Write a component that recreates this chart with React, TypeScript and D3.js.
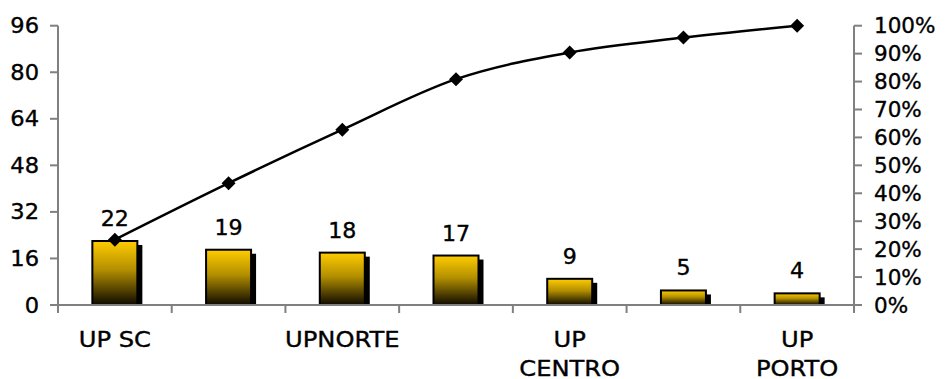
import React from "react";
import * as d3 from "d3";

const categories = ["UP SC", "", "UPNORTE", "", "UP\nCENTRO", "", "UP\nPORTO"];
const showLabel = [true, false, true, false, true, false, true];
const values = [22, 19, 18, 17, 9, 5, 4];
const leftTicks = [0, 16, 32, 48, 64, 80, 96];
const rightTicks = [0, 0.1, 0.2, 0.3, 0.4, 0.5, 0.6, 0.7, 0.8, 0.9, 1.0];

const W = 945, H = 379;
const left = 58, right = 854, top = 25.7, bottom = 305;
const FONT = "'DejaVu Sans', Verdana, sans-serif";
const FS = 20.5;

function T({ x, y, anchor, sx = 1.1, children }: { x: number; y: number; anchor: string; sx?: number; children: any }) {
  return (
    <g transform={`translate(${x},${y}) scale(${sx},1)`}>
      <text x={0} y={0} textAnchor={anchor} fontFamily={FONT} fontSize={FS} fill="#000" stroke="#000" strokeWidth={0.35}>
        {children}
      </text>
    </g>
  );
}

export default function App() {
  const x = d3.scaleBand<number>().domain(d3.range(values.length)).range([left, right]).padding(0);
  const yL = d3.scaleLinear().domain([0, 96]).range([bottom, top]);
  const yR = d3.scaleLinear().domain([0, 1]).range([bottom, top]);
  const total = d3.sum(values);
  const cum: number[] = Array.from(d3.cumsum(values), (v) => v / total);
  const cx = (i: number) => (x(i) as number) + x.bandwidth() / 2;
  const barW = 45;
  const line = d3
    .line<number>()
    .x((_, i) => cx(i))
    .y((d) => yR(d))
    .curve(d3.curveCardinal.tension(0));
  const r = 7;
  const diamond = `M0,${-r}L${r},0L0,${r}L${-r},0Z`;

  return (
    <svg width={W} height={H} style={{ position: "absolute", left: 0, top: 0 }}>
      <defs>
        <linearGradient id="barGrad" x1="0" y1="0" x2="0" y2="1">
          <stop offset="0" stopColor="#FFCC00" />
          <stop offset="0.45" stopColor="#B38F00" />
          <stop offset="1" stopColor="#0d0900" />
        </linearGradient>
      </defs>
      {values.map((v, i) => {
        const bx = cx(i) - barW / 2;
        const by = yL(v);
        const h = bottom - by;
        return (
          <g key={i}>
            <rect x={bx + 5} y={by + 4} width={barW} height={Math.max(0, h - 4)} fill="#000" />
            <rect x={bx} y={by} width={barW} height={h} fill="url(#barGrad)" stroke="#000" strokeWidth={2} />
            <T x={cx(i)} y={by - 15} anchor="middle" sx={1.08}>{v}</T>
          </g>
        );
      })}
      <line x1={left} x2={left} y1={top} y2={bottom} stroke="#808080" strokeWidth={2} />
      <line x1={right} x2={right} y1={top} y2={bottom} stroke="#808080" strokeWidth={2} />
      <line x1={left} x2={right} y1={bottom} y2={bottom} stroke="#808080" strokeWidth={2} />
      {leftTicks.map((t) => (
        <g key={"l" + t}>
          <line x1={left - 8} x2={left} y1={yL(t)} y2={yL(t)} stroke="#808080" strokeWidth={2} />
          <T x={39} y={yL(t) + 7.5} anchor="end" sx={1.1}>{t}</T>
        </g>
      ))}
      {rightTicks.map((t) => (
        <g key={"r" + t}>
          <line x1={right} x2={right + 8} y1={yR(t)} y2={yR(t)} stroke="#808080" strokeWidth={2} />
          <T x={874} y={yR(t) + 7.5} anchor="start" sx={1.05}>{d3.format(".0%")(t)}</T>
        </g>
      ))}
      {d3.range(values.length + 1).map((i) => {
        const xx = i < values.length ? (x(i) as number) : right;
        return <line key={"xt" + i} x1={xx} x2={xx} y1={bottom} y2={bottom + 8} stroke="#808080" strokeWidth={2} />;
      })}
      {categories.map((c, i) =>
        showLabel[i]
          ? c.split("\n").map((ln, j) => (
              <T key={"c" + i + "_" + j} x={cx(i)} y={347 + j * 28.5} anchor="middle" sx={1.18}>{ln}</T>
            ))
          : null
      )}
      <path d={line(cum) || ""} fill="none" stroke="#000" strokeWidth={2.5} />
      {cum.map((p, i) => (
        <path key={"m" + i} d={diamond} transform={`translate(${cx(i)},${yR(p)})`} fill="#000" />
      ))}
    </svg>
  );
}
